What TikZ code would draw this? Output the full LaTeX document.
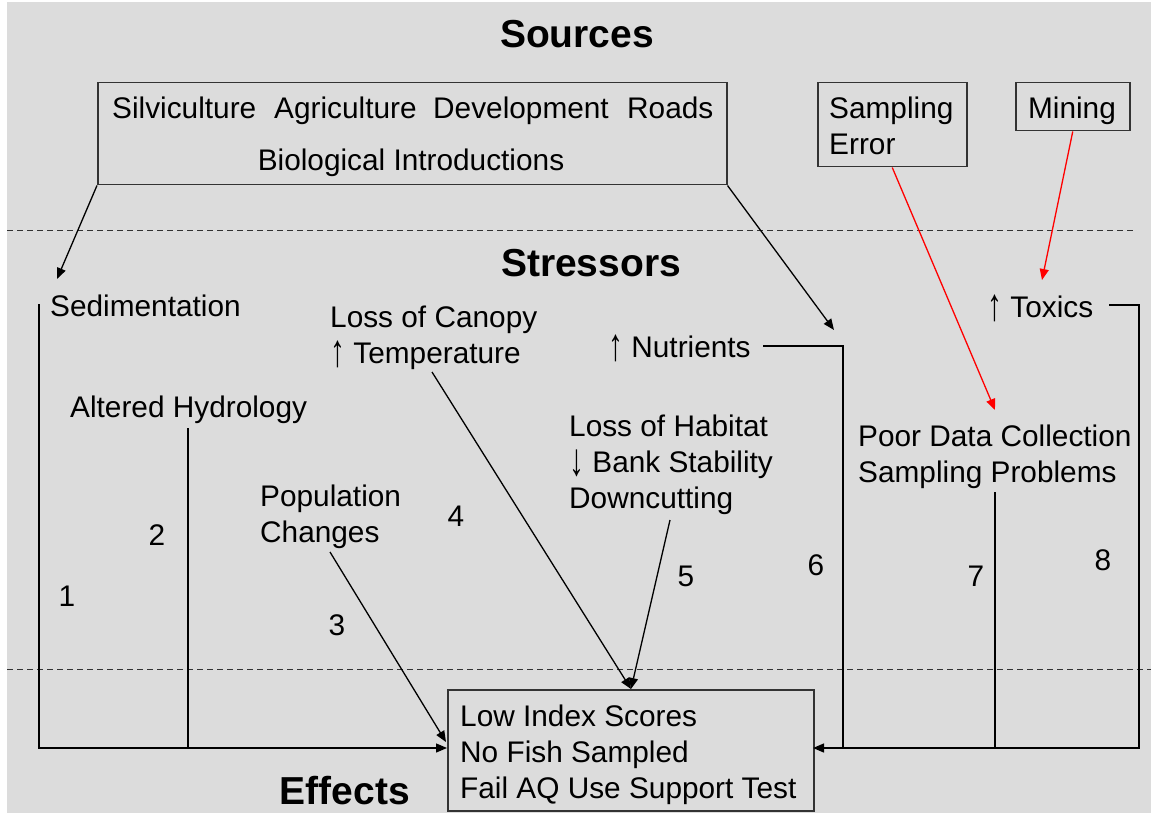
\documentclass[tikz,border=0pt]{standalone}
\usepackage{fontspec}
\usepackage{graphicx}
\setmainfont{Liberation Sans}
\usetikzlibrary{arrows.meta}
\definecolor{bg}{HTML}{DCDCDC}
\definecolor{boxc}{HTML}{333333}
\newcommand{\myup}{\raisebox{-5pt}{\resizebox*{\width}{27pt}{\raisebox{\depth}{↑}}}}
\newcommand{\mydown}{\raisebox{-5pt}{\resizebox*{\width}{27pt}{\raisebox{\depth}{↓}}}}
\begin{document}
\begin{tikzpicture}[x=1pt,y=-1pt,
  txt/.style={font=\fontsize{29.8}{36}\selectfont, inner sep=0pt, anchor=base west},
  num/.style={font=\fontsize{29.8}{36}\selectfont, inner sep=0pt, anchor=center},
  ttl/.style={font=\fontsize{39}{44}\selectfont\bfseries, inner sep=0pt, anchor=base},
  box/.style={draw=boxc, line width=1.5pt, anchor=north west, inner sep=0pt},
  conn/.style={line width=1.3pt, black},
  arr/.style={conn, -{Triangle[length=11pt,width=9pt]}},
  sep/.style={draw=boxc, line width=1pt, dash pattern=on 6pt off 4pt}]
\useasboundingbox (0,0) rectangle (1151,813);
\fill[bg] (7,2) rectangle (1151,813);
% separators
\coordinate (d1l) at (7,231); \coordinate (d1r) at (1135,231);
\coordinate (d2l) at (7,669); \coordinate (d2r) at (1151,669);
\draw[sep] (d1l) -- (d1r);
\draw[sep] (d2l) -- (d2r);
% titles
\node[ttl] (sources) at (577,48) {Sources};
\node[ttl] (stressors) at (591,276) {Stressors};
\node[ttl] (effects) at (345,804) {Effects};
% source boxes
\node[box, minimum width=629pt, minimum height=102pt] (src) at (97,82) {};
\node[txt] (w1) at (112,119) {Silviculture};
\node[txt] (w2) at (274,119) {Agriculture};
\node[txt] (w3) at (433,119) {Development};
\node[txt] (w4) at (627,119) {Roads};
\node[txt, anchor=base] (bio) at (411,171) {Biological Introductions};
\node[box, minimum width=149pt, minimum height=84pt] (samp) at (817,82) {};
\node[txt] (samp1) at (829,119) {Sampling};
\node[txt] (samp2) at (829,155) {Error};
\node[box, minimum width=114pt, minimum height=48pt] (mining) at (1015,82) {};
\node[txt, anchor=base] (mintxt) at (1072,119) {Mining};
% stressors
\node[txt] (sed) at (50,316) {Sedimentation};
\node[txt] (can1) at (330,327) {Loss of Canopy};
\node[txt] (can2) at (330,363) {\myup\ Temperature};
\node[txt] (nut) at (608,357) {\myup\ Nutrients};
\node[txt] (tox) at (987,317) {\myup\ Toxics};
\node[txt] (hyd) at (70,417) {Altered Hydrology};
\node[txt] (hab1) at (569,436) {Loss of Habitat};
\node[txt] (hab2) at (569,472) {\mydown\ Bank Stability};
\node[txt] (hab3) at (569,508) {Downcutting};
\node[txt] (poor1) at (858,446) {Poor Data Collection};
\node[txt] (poor2) at (858,482) {Sampling Problems};
\node[txt] (pop1) at (260,506) {Population};
\node[txt] (pop2) at (260,542) {Changes};
% numbers
\node[num] (n1) at (67,596) {1};
\node[num] (n2) at (157,535) {2};
\node[num] (n3) at (337,625) {3};
\node[num] (n4) at (456,516) {4};
\node[num] (n5) at (686,576) {5};
\node[num] (n6) at (816,565) {6};
\node[num] (n7) at (976,576) {7};
\node[num] (n8) at (1103,560) {8};
% effects box
\node[box, minimum width=366pt, minimum height=121pt] (eff) at (447,689) {};
\node[txt] (e1) at (460,726) {Low Index Scores};
\node[txt] (e2) at (460,762) {No Fish Sampled};
\node[txt] (e3) at (460,798) {Fail AQ Use Support Test};
% connector coordinates
\coordinate (effW) at (447,748);
\coordinate (effE) at (813,748);
\coordinate (effWp) at (446,742);
\coordinate (effN) at (631,689);
\coordinate (sedTip) at (57,279);
\coordinate (nutTip) at (834,330);
\coordinate (toxTip) at (1042,280);
\coordinate (poorTip) at (995,410);
\coordinate (sedTop) at (39,304);
\coordinate (hydB) at (188,428);
\coordinate (popB) at (330,552);
\coordinate (canB) at (432,372);
\coordinate (habB) at (670,520);
\coordinate (nutL) at (763,346);
\coordinate (nutC) at (843,346);
\coordinate (toxL) at (1109,305);
\coordinate (toxC) at (1139,305);
\coordinate (poorB) at (995,492);
% connectors
\draw[arr] (src.south west) -- (sedTip);
\draw[arr] (src.south east) -- (nutTip);
\draw[arr, red] (mining.south) -- (toxTip);
\draw[arr, red] (samp.south) -- (poorTip);
\draw[arr] (sedTop) |- (effW);
\draw[conn] (hydB) -- (hydB |- effW);
\draw[arr] (popB) -- (effWp);
\draw[arr] (canB) -- (effN);
\draw[arr] (habB) -- (effN);
\draw[arr] (toxL) -- (toxC) |- (effE);
\draw[conn] (nutL) -- (nutC) -- (nutC |- effE);
\draw[conn] (poorB) -- (poorB |- effE);
\end{tikzpicture}
\end{document}
